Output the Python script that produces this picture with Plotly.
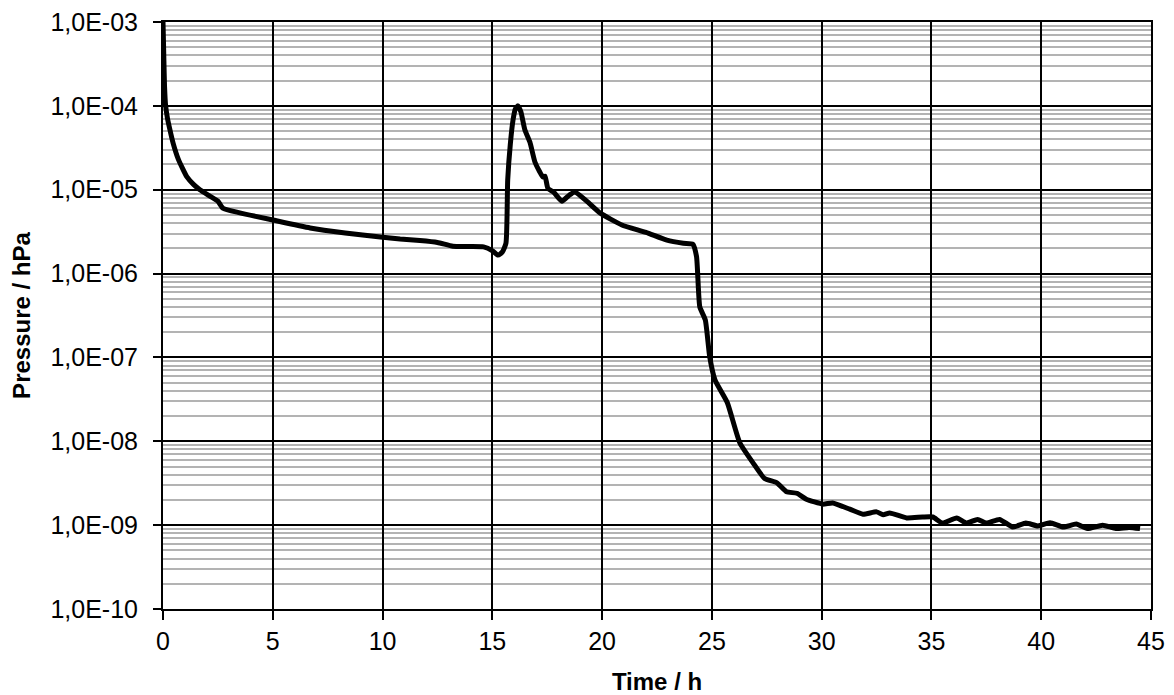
import plotly.graph_objects as go

# pressure curve
time_h = [0.0, 0.02, 0.04, 0.07, 0.12, 0.2, 0.3, 0.46, 0.7, 1.09, 1.4, 1.68, 2.1, 2.5, 2.73, 3.5,
          5.0, 6.7, 8.3, 9.9, 10.8, 11.7, 12.5, 13.2, 13.8, 14.6, 15.03, 15.26, 15.45,
          15.62, 15.7, 15.82, 15.94, 16.05, 16.17, 16.3, 16.48, 16.71, 16.94, 17.15,
          17.3, 17.4, 17.53, 17.8, 18.17, 18.5, 18.76, 19.3, 19.9, 20.9, 22.0, 22.95,
          23.7, 24.13, 24.3, 24.45, 24.7, 24.9, 25.14, 25.7, 26.27, 26.88, 27.4, 27.96,
          28.4, 28.87, 29.3, 30.05, 30.5, 31.28, 31.88, 32.5, 32.8, 33.1, 33.87, 34.6,
          35.06, 35.5, 36.15, 36.6, 37.1, 37.5, 38.1, 38.7, 39.3, 39.85, 40.4, 41.0,
          41.6, 42.1, 42.8, 43.4, 44.0, 44.5]
pressure_hpa = [1.0e-3, 6.0e-4, 3.5e-4, 1.7e-4, 1.0e-4, 7.2e-5, 5.4e-5, 3.6e-5, 2.3e-5, 1.42e-5,
                1.15e-5, 1.0e-5, 8.5e-6, 7.3e-6, 6.0e-6, 5.3e-6,
                4.35e-6, 3.5e-6, 3.05e-6, 2.73e-6, 2.58e-6, 2.48e-6, 2.35e-6, 2.12e-6,
                2.1e-6, 2.08e-6, 1.85e-6, 1.66e-6, 1.8e-6,
                2.3e-6, 1.3e-5, 3.5e-5, 6.7e-5, 9.2e-5, 1.0e-4, 8.5e-5, 5.2e-5, 3.7e-5,
                2.14e-5, 1.65e-5, 1.42e-5, 1.45e-5, 1.04e-5, 9.3e-6, 7.3e-6, 8.6e-6,
                9.4e-6, 7.3e-6, 5.3e-6, 3.8e-6, 3.1e-6, 2.5e-6,
                2.3e-6, 2.24e-6, 1.6e-6, 4.0e-7, 2.8e-7, 1.02e-7, 5.4e-8, 2.9e-8, 9.6e-9,
                5.5e-9, 3.6e-9, 3.2e-9,
                2.5e-9, 2.4e-9, 2.04e-9, 1.78e-9, 1.84e-9, 1.55e-9, 1.35e-9, 1.44e-9,
                1.33e-9, 1.4e-9, 1.22e-9, 1.25e-9,
                1.25e-9, 1.06e-9, 1.22e-9, 1.06e-9, 1.17e-9, 1.06e-9, 1.17e-9, 0.95e-9,
                1.06e-9, 0.98e-9, 1.07e-9, 0.95e-9,
                1.03e-9, 0.91e-9, 1.0e-9, 0.91e-9, 0.94e-9, 0.91e-9]

y_tickvals = [1e-10, 1e-9, 1e-8, 1e-7, 1e-6, 1e-5, 1e-4, 1e-3]
y_ticktext = ["1,0E-10", "1,0E-09", "1,0E-08", "1,0E-07", "1,0E-06", "1,0E-05",
              "1,0E-04", "1,0E-03"]
x_tickvals = [0, 5, 10, 15, 20, 25, 30, 35, 40, 45]

fig = go.Figure()
fig.add_trace(go.Scatter(
    x=time_h,
    y=pressure_hpa,
    mode="lines",
    line=dict(color="black", width=5, shape="spline", smoothing=0.5),
    showlegend=False
))

font = "Liberation Sans, Arial, sans-serif"
fig.update_layout(
    width=1174,
    height=695,
    margin=dict(l=163, r=23, t=22, b=86),
    paper_bgcolor="white",
    plot_bgcolor="white",
    font=dict(family=font, size=25, color="black"),
)
fig.update_xaxes(
    range=[0, 45],
    tickvals=x_tickvals,
    automargin=False,
    ticklabeloverflow="allow",
    showgrid=True, gridcolor="black", gridwidth=2,
    showline=True, linecolor="black", linewidth=2, mirror=True,
    ticks="outside", ticklen=9, tickwidth=2, tickcolor="black",
    zeroline=False,
    title=dict(text="<b>Time / h</b>", font=dict(size=24), standoff=22),
)
fig.update_yaxes(
    type="log",
    range=[-10, -3],
    tickvals=y_tickvals,
    ticktext=y_ticktext,
    automargin=False,
    ticklabeloverflow="allow",
    ticklabelstandoff=10,
    showgrid=True, gridcolor="black", gridwidth=2,
    showline=True, linecolor="black", linewidth=2, mirror=True,
    ticks="outside", ticklen=8, tickwidth=2, tickcolor="black",
    minor=dict(dtick="D1", showgrid=True, gridcolor="#b3b3b3", gridwidth=2, ticks=""),
    title=dict(text="<b>Pressure / hPa</b>", font=dict(size=24), standoff=13),
)

# drop the default 8px page margin so the figure fills the window exactly
fig.write_html("out.html", config={"displayModeBar": False},
               post_script="document.body.style.margin = '0';")
